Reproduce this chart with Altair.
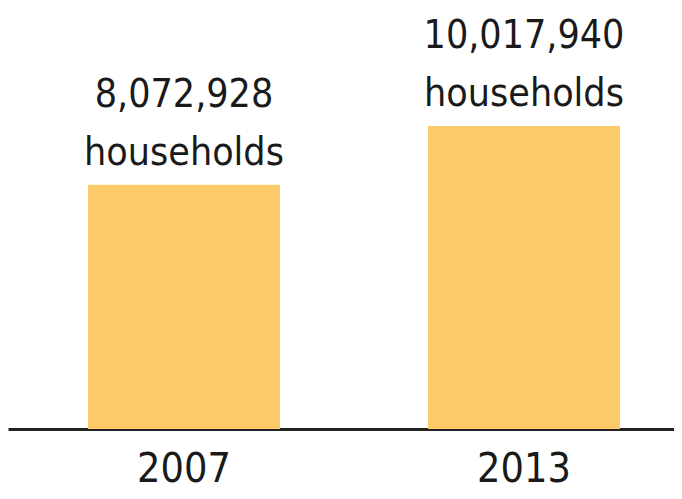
import altair as alt
import pandas as pd

years = ["2007", "2013"]
households = [8072928, 10017940]
unit_label = ["households", "households"]

df = pd.DataFrame({"year": years, "value": households, "unit": unit_label})

FONT = "DejaVu Sans Condensed, DejaVu Sans, sans-serif"
TXT = "#1a1a1a"

x = alt.X(
    "year:N",
    sort=years,
    scale=alt.Scale(paddingInner=0.4353, paddingOuter=0.19705, align=0.597),
    axis=alt.Axis(
        title=None,
        ticks=False,
        tickSize=0,
        labelAngle=0,
        labelFont=FONT,
        labelFontSize=41,
        labelColor=TXT,
        labelBaseline="alphabetic",
        labelPadding=52,
        domainColor="#222222",
        domainWidth=3,
        grid=False,
    ),
)
y = alt.Y("value:Q", scale=alt.Scale(domain=[0, 13920000]), axis=None)

base = alt.Chart(df).encode(x=x, y=y)

bars = base.mark_bar(color="#FDCA6A")
num = base.mark_text(
    font=FONT, fontSize=39, color=TXT, baseline="alphabetic", dy=-78
).encode(text=alt.Text("value:Q", format=","))
unit = base.mark_text(
    font=FONT, fontSize=39, color=TXT, baseline="alphabetic", dy=-20
).encode(text="unit:N")

chart = (
    alt.layer(bars, num, unit)
    .properties(
        width=666,
        height=421,
        autosize=alt.AutoSizeParams(type="none"),
        padding={"left": 0, "top": 0, "right": 0, "bottom": 62},
        background="white",
    )
    .configure_view(stroke=None)
)

chart.save("out.html", embed_options={"renderer": "svg", "actions": False})
